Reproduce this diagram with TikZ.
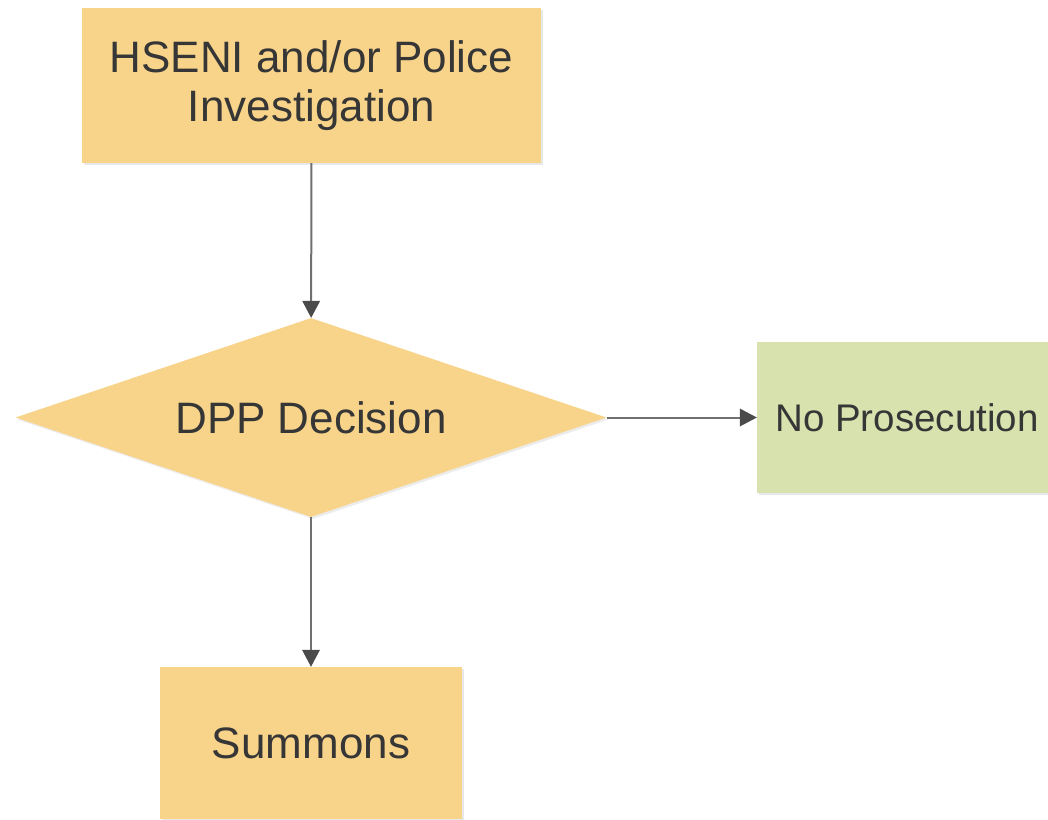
\documentclass[tikz,border=0pt]{standalone}
\usepackage{fontspec}
\setmainfont{Liberation Sans}
\usepackage{tikz}
\usetikzlibrary{shapes.geometric, positioning, arrows.meta}
\usetikzlibrary{shadows}
\definecolor{boxorange}{HTML}{F8D48A}
\definecolor{boxgreen}{HTML}{D8E2AE}
\definecolor{textgrey}{HTML}{363636}
\definecolor{linegrey}{HTML}{707070}
\definecolor{tipgrey}{HTML}{4A4A4A}

\tikzset{
    stepbox/.style={rectangle, fill=boxorange, text=textgrey, align=center, inner sep=0pt,
        drop shadow={shadow xshift=2pt, shadow yshift=-2pt, opacity=0.15, fill=black!60}},
    decisionbox/.style={diamond, fill=boxorange, text=textgrey, inner sep=0pt, aspect=2.95,
        drop shadow={shadow xshift=2pt, shadow yshift=-2pt, opacity=0.12, fill=black!60}},
    flow/.style={draw=linegrey, line width=2pt, -{Triangle[length=17pt, width=18pt, fill=tipgrey, line width=0pt]}}
}

\begin{document}
\begin{tikzpicture}[x=1pt, y=-1pt, font=\fontsize{44}{49}\selectfont]
    \path[use as bounding box] (0,0) rectangle (1048,819);
    \clip (0,0) rectangle (1048,819);
    \fill[white] (0,0) rectangle (1048,819);

    \node[stepbox, minimum width=459pt, minimum height=155pt] (invest) at (311.5,85.5)
        {HSENI and/or Police\\Investigation};
    \node[decisionbox, minimum width=591pt, minimum height=199pt] (decision) at (311,417.5)
        {DPP Decision};
    \node[stepbox, fill=boxgreen, minimum width=300pt, minimum height=151pt,
        font=\fontsize{38.5}{44}\selectfont] (noprose) at (907,417.5)
        {No Prosecution};
    \node[stepbox, minimum width=302pt, minimum height=152pt] (summons) at (311,743)
        {Summons};

    \path[flow]
        (invest) edge (decision)
        (decision) edge (noprose)
        (decision) edge (summons);
\end{tikzpicture}
\end{document}
